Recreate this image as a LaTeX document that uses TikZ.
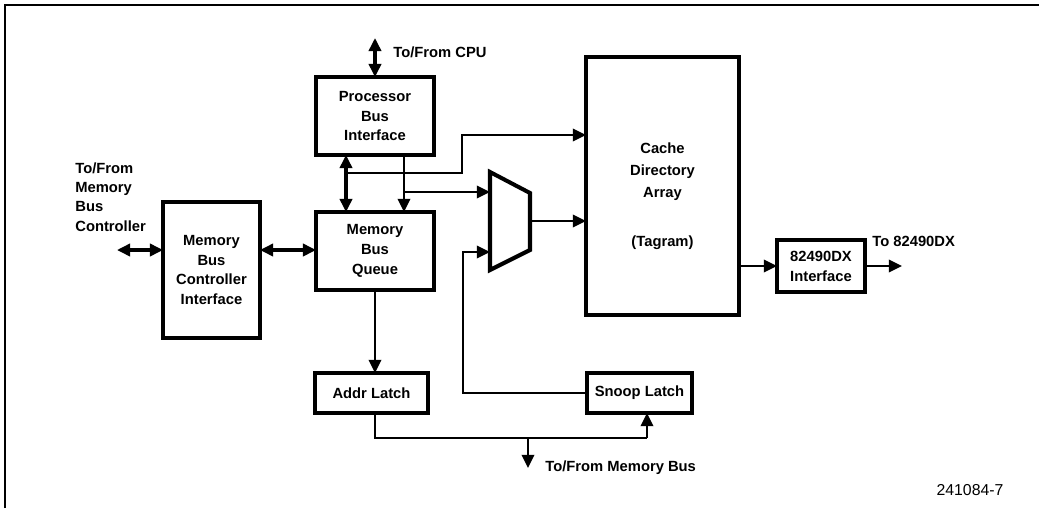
\documentclass[tikz,border=0pt]{standalone}
\usepackage{fontspec}
\setmainfont{Liberation Sans}
\usetikzlibrary{arrows.meta, calc}
\tikzset{
  blk/.style   = {draw, rectangle, line width=2.3pt, inner sep=0pt, outer sep=0pt,
                  align=center, font=\bfseries\fontsize{8.4}{11.3}\selectfont},
  lbl/.style   = {inner sep=0pt, align=left, font=\bfseries\fontsize{8.4}{11.3}\selectfont},
  wire/.style  = {line width=1.5pt, -{Triangle[length=7.5pt,width=7pt]}},
  bidir/.style = {line width=1.8pt, {Triangle[length=7.5pt,width=7pt]}-{Triangle[length=7.5pt,width=7pt]}},
  line/.style  = {line width=1.5pt},
}

\begin{document}
\begin{tikzpicture}[x=0.02cm, y=-0.02cm]
  \useasboundingbox (0,0) rectangle (1039,508);
  % frame
  \draw[line width=1.4pt] (5,508) -- (5,5) -- (1039,5);

  % blocks
  \node[blk, minimum width=2.36cm, minimum height=1.56cm] (pbi) at (375,116) {Processor\\Bus\\Interface};
  \node[blk, minimum width=2.36cm, minimum height=1.56cm] (mbq) at (375,251) {Memory\\Bus\\Queue};
  \node[blk, minimum width=1.94cm, minimum height=2.72cm] (mbci) at (211.5,270) {Memory\\Bus\\Controller\\Interface};
  \node[blk, minimum width=3.06cm, minimum height=5.16cm] (cache) at (662.5,186) {};
  \node[lbl, align=center, font=\bfseries\fontsize{8.4}{12.5}\selectfont] (cachetxt) at (662.5,172) {Cache\\Directory\\Array};
  \node[lbl] (tagtxt) at (662.5,243) {(Tagram)};
  \node[blk, minimum width=1.76cm, minimum height=1.04cm] (dxif) at (821,266) {82490DX\\Interface};
  \node[blk, minimum width=2.26cm, minimum height=0.8cm] (addr) at (371.5,393) {Addr Latch};
  \node[blk, minimum width=2.1cm, minimum height=0.8cm] (snoop) at (639.5,393) {Snoop Latch};

  % multiplexer
  \coordinate (muxtl) at (490,172);
  \coordinate (muxtr) at (530,193);
  \coordinate (muxbr) at (530,250);
  \coordinate (muxbl) at (490,270);
  \draw[line width=2.3pt, line join=miter] (muxtl) -- (muxtr) -- (muxbr) -- (muxbl) -- cycle;

  % outside labels
  \node[lbl, anchor=west] (cpulbl) at (393,52) {To/From CPU};
  \node[lbl, anchor=west, font=\bfseries\fontsize{8.4}{11}\selectfont] (mbclbl) at (75,197) {To/From\\Memory\\Bus\\Controller};
  \node[lbl, anchor=west] (dxlbl) at (872,241) {To 82490DX};
  \node[lbl, anchor=west] (buslbl) at (545,468) {To/From Memory Bus};
  \node[inner sep=0pt, font=\fontsize{9}{11}\selectfont] (fignum) at (970,490) {241084-7};

  % free ends and junctions
  \coordinate (cpu) at (375,38);
  \coordinate (mbc) at (117,250);
  \coordinate (j1) at (346,173);
  \coordinate (j2) at (404,192);
  \coordinate (j3) at (462,135);
  \coordinate (j4) at (463,252);
  \coordinate (muxout) at (530,221);
  \coordinate (bus) at (528,438);
  \coordinate (snp) at (647,438);
  \coordinate (membus) at (528,468);
  \coordinate (dxout) at (902,266);

  % connectors
  \draw[bidir] (cpu) -- (pbi.north);
  \draw[bidir] (mbc) -- (mbc -| mbci.west);
  \draw[bidir] (mbci.east |- mbc) -- (mbq.west |- mbc);
  \draw[bidir] (pbi.south -| j1) -- (mbq.north -| j1);
  \draw[wire] (pbi.south -| j2) -- (mbq.north -| j2);
  \draw[wire] (j1) -| (j3) -- (j3 -| cache.west);
  \draw[wire] (j2) -- (j2 -| muxtl);
  \draw[wire] (muxout) -- (muxout -| cache.west);
  \draw[wire] (snoop.west) -| (j4) -- (j4 -| muxtl);
  \draw[wire] (mbq.south) -- (mbq.south |- addr.north);
  \draw[line] (mbq.south |- addr.south) |- (snp);
  \draw[wire] (snp) -- (snp |- snoop.south);
  \draw[wire] (bus) -- (membus);
  \draw[wire] (cache.east |- dxif.west) -- (dxif.west);
  \draw[wire] (dxif.east) -- (dxout);
\end{tikzpicture}
\end{document}
